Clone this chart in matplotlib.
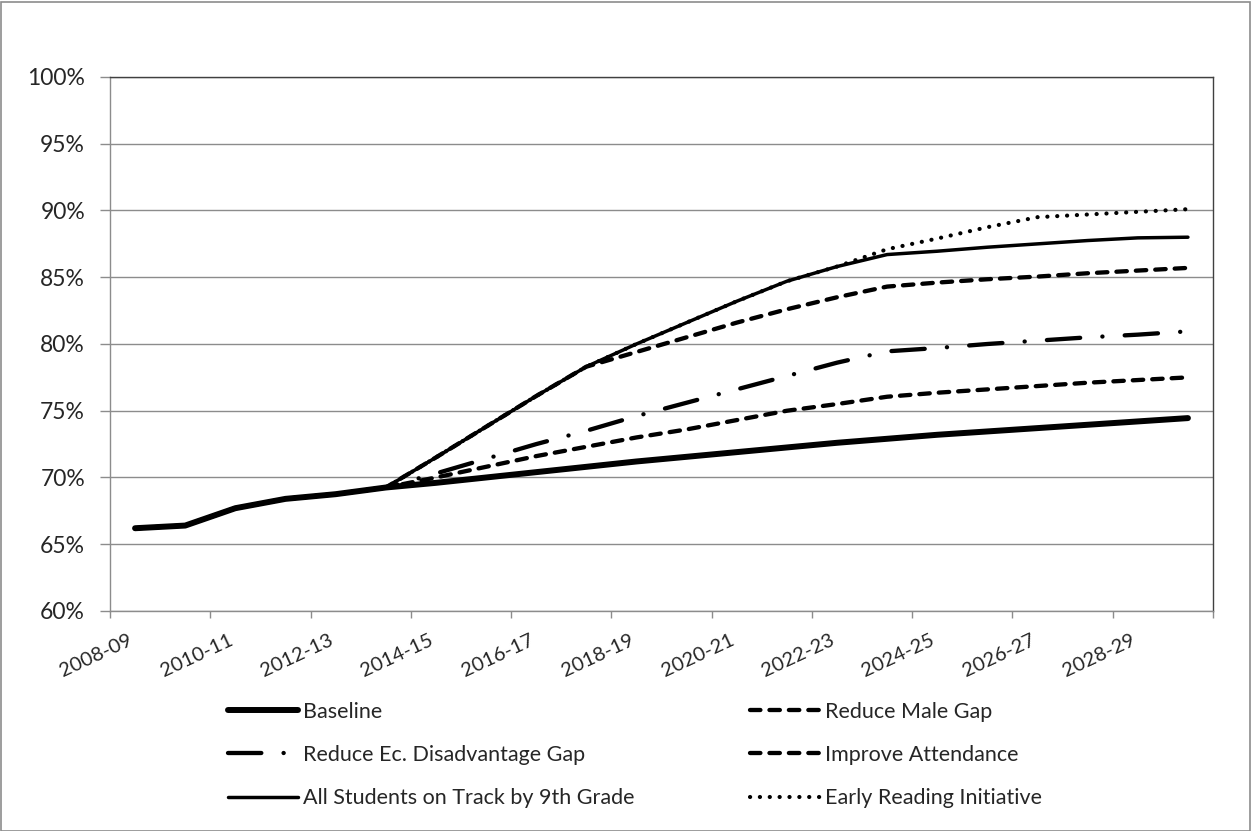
import matplotlib
matplotlib.use("Agg")
import matplotlib.pyplot as plt
from matplotlib.patches import Rectangle
from matplotlib.lines import Line2D
from matplotlib.ticker import FixedLocator, FuncFormatter

plt.rcParams['font.family'] = ['Lato', 'DejaVu Sans']
plt.rcParams['lines.scale_dashes'] = False

years = ["2008-09", "2009-10", "2010-11", "2011-12", "2012-13", "2013-14",
         "2014-15", "2015-16", "2016-17", "2017-18", "2018-19", "2019-20",
         "2020-21", "2021-22", "2022-23", "2023-24", "2024-25", "2025-26",
         "2026-27", "2027-28", "2028-29", "2029-30"]

baseline = [66.2, 66.4, 67.7, 68.4, 68.75, 69.25, 69.6, 70.0, 70.4, 70.8, 71.2,
            71.55, 71.9, 72.25, 72.6, 72.9, 73.2, 73.45, 73.7, 73.95, 74.2, 74.45]
male_gap = [66.2, 66.4, 67.7, 68.4, 68.75, 69.25, 70.0, 70.8, 71.6, 72.3, 73.0,
            73.6, 74.3, 75.0, 75.5, 76.05, 76.35, 76.6, 76.85, 77.1, 77.3, 77.5]
ec_gap = [66.2, 66.4, 67.7, 68.4, 68.75, 69.25, 70.3, 71.4, 72.5, 73.5, 74.6,
          75.6, 76.6, 77.6, 78.6, 79.45, 79.7, 80.0, 80.25, 80.5, 80.7, 80.95]
attendance = [66.2, 66.4, 67.7, 68.4, 68.75, 69.25, 71.5, 73.8, 76.1, 78.3, 79.4,
              80.5, 81.6, 82.6, 83.5, 84.3, 84.6, 84.85, 85.05, 85.3, 85.5, 85.7]
all_on_track = [66.2, 66.4, 67.7, 68.4, 68.75, 69.25, 71.5, 73.8, 76.1, 78.3, 80.0,
                81.6, 83.2, 84.7, 85.8, 86.7, 86.95, 87.25, 87.5, 87.75, 87.95, 88.0]
early_reading = [66.2, 66.4, 67.7, 68.4, 68.75, 69.25, 71.5, 73.8, 76.1, 78.3, 80.0,
                 81.6, 83.2, 84.7, 85.8, 87.1, 87.9, 88.75, 89.5, 89.7, 89.9, 90.1]

series_names = ["Baseline", "Reduce Male Gap", "Reduce Ec. Disadvantage Gap",
                "Improve Attendance", "All Students on Track by 9th Grade",
                "Early Reading Initiative"]
y_ticks = [60, 65, 70, 75, 80, 85, 90, 95, 100]

W, H = 1252, 831
fig = plt.figure(figsize=(W / 100, H / 100), dpi=100)
fig.patches.append(Rectangle((0.5 / W, 0.5 / H), (W - 2.5) / W, (H - 2.5) / H,
                             transform=fig.transFigure, fill=False,
                             edgecolor='#8c8c8c', linewidth=1.2))

L, R, T, B = 110, 1213, 77, 611
ax = fig.add_axes([L / W, 1 - B / H, (R - L) / W, (B - T) / H])

x = list(range(len(years)))
text_color = '#262626'
grid_color = '#8c8c8c'

styles = [
    dict(lw=4.3, ls='-', solid_capstyle='round'),
    dict(lw=3.1, ls=(0, (7.5, 6.5)), dash_capstyle='round'),
    dict(lw=3.1, ls=(0, (24.0, 16.0, 0.1, 16.0)), dash_capstyle='round'),
    dict(lw=3.1, ls=(0, (7.5, 6.5)), dash_capstyle='round'),
    dict(lw=2.5, ls='-', solid_capstyle='round'),
    dict(lw=3.0, ls=(0, (0.1, 7.0)), dash_capstyle='round'),
]
data = [baseline, male_gap, ec_gap, attendance, all_on_track, early_reading]
for name, vals, st in zip(series_names, data, styles):
    ax.plot(x, vals, color='black', label=name, zorder=3, **st)

ax.set_xlim(-0.5, len(years) - 0.5)
ax.set_ylim(60, 100)
ax.yaxis.set_major_locator(FixedLocator(y_ticks))
ax.yaxis.set_major_formatter(FuncFormatter(lambda v, p: f"{v:.0f}%"))
ax.grid(axis='y', color=grid_color, linewidth=1.0, zorder=0)
ax.set_axisbelow(True)

# category boundary ticks every 2 categories; labels on every other category
ax.set_xticks([i - 0.5 for i in range(0, len(years) + 1, 2)])
ax.set_xticklabels([])
ax.set_xticks(list(range(0, len(years) - 1, 2)), minor=True)
ax.set_xticklabels([years[i] for i in range(0, len(years) - 1, 2)], minor=True,
                   rotation=25, ha='right', va='top', fontsize=14.5, color=text_color)
ax.tick_params(axis='x', which='major', direction='out', length=5, width=1,
               color=grid_color)
ax.tick_params(axis='x', which='minor', length=0, pad=15)
ax.tick_params(axis='y', direction='out', length=7, width=1, color=grid_color,
               labelsize=16.5, labelcolor=text_color, pad=11)

for s in ['left', 'bottom']:
    ax.spines[s].set_color(grid_color)
    ax.spines[s].set_linewidth(1.0)
for s in ['top', 'right']:
    ax.spines[s].set_color('#404040')
    ax.spines[s].set_linewidth(1.0)


def leg_handle(st):
    return Line2D([], [], color='black', **st)


col1 = [0, 2, 4]
col2 = [1, 3, 5]
yc = 1 - 755 / H
for cols, xl in [(col1, 228), (col2, 750)]:
    fig.legend([leg_handle(styles[i]) for i in cols],
               [series_names[i] for i in cols],
               loc='center left', bbox_to_anchor=(xl / W, yc),
               frameon=False, borderpad=0, borderaxespad=0,
               handlelength=3.25, handletextpad=0.25, labelspacing=1.07,
               prop={'size': 15.5}, labelcolor=text_color)

fig.savefig("out.png", dpi=100)
